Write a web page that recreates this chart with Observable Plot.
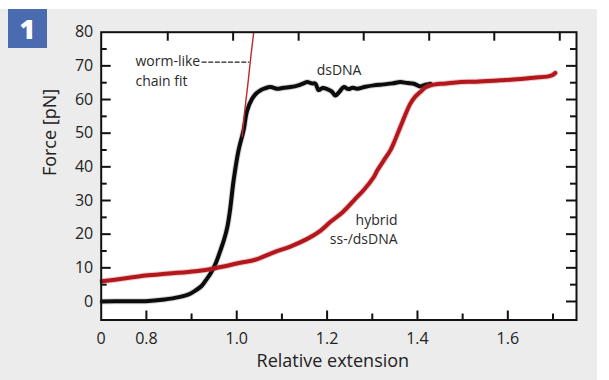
<!DOCTYPE html>
<html><head><meta charset="utf-8">
<script src="https://cdn.jsdelivr.net/npm/d3@7"></script>
<script src="https://cdn.jsdelivr.net/npm/@observablehq/plot@0.6"></script>
<style>
body{margin:0;background:#fff;}
#wrap{position:relative;width:609px;height:380px;overflow:hidden;font-family:"Open Sans",sans-serif;}
#panel{position:absolute;left:0;top:9px;width:597px;height:371px;background:#ebeceb;}
#badge{position:absolute;left:8px;top:9px;width:39px;height:39px;background:#4a6bb0;color:#fff;font:800 27px "Open Sans",sans-serif;display:flex;align-items:center;justify-content:center;line-height:1;}
#chart{position:absolute;left:0;top:0;}
</style></head>
<body>
<div id="wrap"><div id="panel"></div><div id="badge">1</div><div id="chart"></div></div>
<script>
// dsDNA (black) : relative extension, force [pN]
const dsX = [0.702,0.75,0.798,0.84,0.872,0.895,0.909,0.922,0.931,0.942,0.953,0.964,0.972,0.979,0.985,0.993,1.004,1.015,1.023,1.034,1.043,1.052,1.062,1.075,1.089,1.104,1.119,1.138,1.148,1.156,1.166,1.174,1.181,1.19,1.2,1.21,1.218,1.226,1.237,1.247,1.257,1.266,1.285,1.303,1.325,1.345,1.362,1.378,1.392,1.406,1.415,1.421,1.429];
const dsF = [0.0,0.1,0.1,0.6,1.3,2.2,3.3,4.6,6.2,8.3,11.2,15.2,18.4,22.0,27.0,35.9,44.9,50.8,56.7,60.2,61.8,62.7,63.3,63.7,63.2,63.5,63.7,64.3,64.8,65.2,64.8,64.7,62.8,63.4,63.1,62.4,61.2,62.1,63.7,63.1,63.5,63.2,63.8,64.2,64.5,64.8,65.2,64.9,64.7,63.9,64.3,64.5,64.7];
// hybrid ss-/dsDNA (red)
const hyX = [0.702,0.75,0.798,0.85,0.909,0.953,1.008,1.041,1.082,1.12,1.156,1.185,1.207,1.235,1.259,1.283,1.303,1.311,1.325,1.34,1.347,1.365,1.384,1.396,1.406,1.418,1.429,1.445,1.458,1.495,1.53,1.583,1.62,1.657,1.687,1.698,1.705];
const hyF = [6.0,6.8,7.7,8.3,9.0,9.9,11.5,12.4,14.6,16.4,18.6,21.0,23.6,26.6,30.0,33.4,36.9,38.9,41.8,44.9,46.9,52.8,58.7,61.0,62.2,63.6,64.2,64.6,64.7,65.2,65.3,65.7,66.0,66.5,66.8,67.2,67.9];
// worm-like chain fit (thin red)
const wlcX = [1.012,1.018,1.025,1.031,1.0376];
const wlcF = [49,57,65,72.5,80];
// axis ticks
const xLabelTicks = [0.7,0.8,1.0,1.2,1.4,1.6];
const xMajorTicks = [0.8,1.0,1.2,1.4,1.6];
const xMinorTicks = [0.9,1.1,1.3,1.5,1.7];
const topTicks = [0.8473,0.992,1.137,1.281,1.426,1.570,1.715];
const yMajorTicks = [0,10,20,30,40,50,60,70];
const yMinorTicks = [5,15,25,35,45,55,65,75];
const yLabelTicks = [0,10,20,30,40,50,60,70,80];
// annotations
const noteText = ["worm-like","chain fit","dsDNA","hybrid","ss-/dsDNA"];
const noteX = [0.7759,0.7759,1.2265,1.356,1.356];
const noteY = [71.2,65.3,68.5,24.2,18.5];
const noteAnchor = ["start","start","middle","end","end"];
const leaderX = [0.9234,1.0265];
const leaderY = [71.1,71.1];

const W = 609, H = 380, mL = 100.7, mR = 33, mT = 31.7, mB = 60.5;
const iW = W - mL - mR, iH = H - mT - mB;
const ds = dsX.map((x,i)=>({x, y: dsF[i]}));
const hy = hyX.map((x,i)=>({x, y: hyF[i]}));
const wlc = wlcX.map((x,i)=>({x, y: wlcF[i]}));
const notes = noteText.map((t,i)=>({t, x: noteX[i], y: noteY[i], a: noteAnchor[i]}));
const leader = leaderX.map((x,i)=>({x, y: leaderY[i]}));
const ink = "#111";
const noteMark = (anchor) => Plot.text(notes.filter(d => d.a === anchor),
  {x: "x", y: "y", text: "t", textAnchor: anchor, fontSize: 14, fill: "#2a2a2a"});

const chart = Plot.plot({
  width: W, height: H,
  marginLeft: mL, marginRight: mR, marginTop: mT, marginBottom: mB,
  style: {fontFamily: "'Open Sans', sans-serif", fontSize: "16px", color: "#222", background: "transparent", overflow: "visible"},
  x: {domain: [0.7, 1.752]},
  y: {domain: [-5.5, 80]},
  marks: [
    Plot.frame({fill: "white"}),
    Plot.ruleX(xMajorTicks, {x: d=>d, insetTop: iH - 9, stroke: ink, strokeWidth: 2}),
    Plot.ruleX(xMinorTicks, {x: d=>d, insetTop: iH - 6, stroke: ink, strokeWidth: 2}),
    Plot.ruleX(topTicks, {x: d=>d, insetBottom: iH - 9, stroke: ink, strokeWidth: 2}),
    Plot.ruleY(yMajorTicks, {y: d=>d, insetRight: iW - 10, stroke: ink, strokeWidth: 2}),
    Plot.ruleY(yMinorTicks, {y: d=>d, insetRight: iW - 6, stroke: ink, strokeWidth: 2}),
    Plot.ruleY(yMajorTicks, {y: d=>d, insetLeft: iW - 10, stroke: ink, strokeWidth: 2}),
    Plot.ruleY(yMinorTicks, {y: d=>d, insetLeft: iW - 6, stroke: ink, strokeWidth: 2}),
    Plot.line(ds, {x: "x", y: "y", stroke: "#777", strokeOpacity: 0.3, strokeWidth: 6, curve: "catmull-rom"}),
    Plot.line(ds, {x: "x", y: "y", stroke: "#0c0c0c", strokeWidth: 4, curve: "catmull-rom"}),
    Plot.line(wlc, {x: "x", y: "y", stroke: "#c0282a", strokeWidth: 1.4}),
    Plot.line(hy, {x: "x", y: "y", stroke: "#c05050", strokeOpacity: 0.3, strokeWidth: 6, curve: "catmull-rom"}),
    Plot.line(hy, {x: "x", y: "y", stroke: "#b3161b", strokeWidth: 4, curve: "catmull-rom"}),
    Plot.line(leader, {x: "x", y: "y", stroke: "#222", strokeWidth: 1.2, strokeDasharray: "4,2.6"}),
    noteMark("start"),
    noteMark("middle"),
    noteMark("end"),
    Plot.frame({stroke: ink, strokeWidth: 2}),
    Plot.axisX(xLabelTicks, {tickSize: 0, tickPadding: 13, fontSize: 16, fill: "#222", label: null,
      tickFormat: d => d === 0.7 ? "0" : d.toFixed(1)}),
    Plot.axisY(yLabelTicks, {tickSize: 0, tickPadding: 8, fontSize: 16, fill: "#222", label: null}),
    Plot.text(["Relative extension"], {frameAnchor: "bottom", dx: -6, dy: 47, fontSize: 18, fill: "#222"}),
    Plot.text(["Force [pN]"], {frameAnchor: "left", rotate: -90, dx: -51, fontSize: 18, fill: "#222"})
  ]
});
document.getElementById("chart").appendChild(chart);
</script>
</body></html>
